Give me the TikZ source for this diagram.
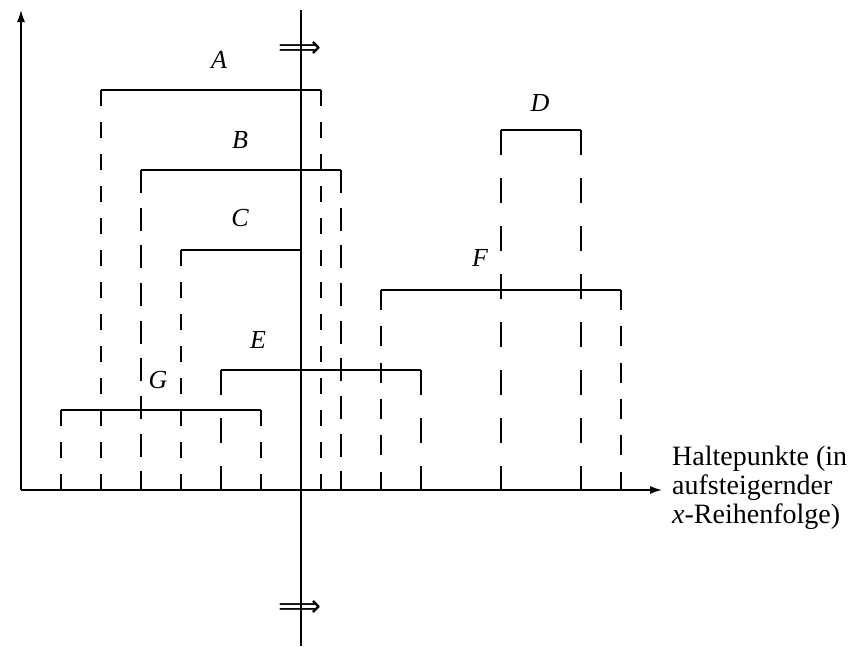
\documentclass[tikz,border=0pt]{standalone}
\usepackage{fontspec}
\setmainfont{Liberation Serif}
\newfontfamily\symfont{DejaVu Sans}
\usetikzlibrary{arrows.meta}
\tikzset{
  axis/.style={line width=1.5pt, -{Latex[length=12pt,width=8pt]}},
  sweep/.style={line width=1.3pt},
  seg/.style={line width=1.3pt},
  dsh/.style 2 args={line width=1.3pt, dash pattern=on #1pt off #2pt},
  lab/.style={font=\fontsize{26}{28}\selectfont\itshape, inner sep=0pt},
  txt/.style={font=\fontsize{28}{29}\selectfont, inner sep=0pt, anchor=base west},
  arr/.style={inner sep=0pt}
}
\newcommand{\sweeparrow}{\resizebox{43pt}{16pt}{\symfont ⟹}}
\begin{document}
\begin{tikzpicture}[x=1pt,y=-1pt]
\useasboundingbox (0,0) rectangle (856,646);
% axes
\coordinate (O) at (21,490);
\coordinate (Ytip) at (21,10);
\coordinate (Xtip) at (662,490);
\draw[axis] (O) -- (Ytip);
\draw[axis] (O) -- (Xtip);
% sweep line
\coordinate (S1) at (301,10);
\coordinate (S2) at (301,646);
\draw[sweep] (S1) -- (S2);
\node[arr] (ar1) at (300,49) {\sweeparrow};
\node[arr] (ar2) at (300,608) {\sweeparrow};
% segment end points
\coordinate (A1) at (101,90);  \coordinate (A2) at (321,90);
\coordinate (B1) at (141,170); \coordinate (B2) at (341,170);
\coordinate (C1) at (181,250); \coordinate (C2) at (301,250);
\coordinate (D1) at (501,130); \coordinate (D2) at (581,130);
\coordinate (E1) at (221,370); \coordinate (E2) at (421,370);
\coordinate (F1) at (381,290); \coordinate (F2) at (621,290);
\coordinate (G1) at (61,410);  \coordinate (G2) at (261,410);
% feet on the x axis
\coordinate (A1b) at (101,490); \coordinate (A2b) at (321,490);
\coordinate (B1b) at (141,490); \coordinate (B2b) at (341,490);
\coordinate (C1b) at (181,490);
\coordinate (D1b) at (501,490); \coordinate (D2b) at (581,490);
\coordinate (E1b) at (221,490); \coordinate (E2b) at (421,490);
\coordinate (F1b) at (381,490); \coordinate (F2b) at (621,490);
\coordinate (G1b) at (61,490);  \coordinate (G2b) at (261,490);
% segments
\draw[seg] (A1) -- (A2);
\draw[seg] (B1) -- (B2);
\draw[seg] (C1) -- (C2);
\draw[seg] (D1) -- (D2);
\draw[seg] (E1) -- (E2);
\draw[seg] (F1) -- (F2);
\draw[seg] (G1) -- (G2);
% dashed projections
\draw[dsh={16}{16}] (A1) -- (A1b);
\draw[dsh={16}{16}] (A2) -- (A2b);
\draw[dsh={23}{14.65}] (B1) -- (B1b);
\draw[dsh={23}{14.65}] (B2) -- (B2b);
\draw[dsh={16}{16}] (C1) -- (C1b);
\draw[dsh={25}{23}] (D1) -- (D1b);
\draw[dsh={25}{23}] (D2) -- (D2b);
\draw[dsh={25}{23}] (E1) -- (E1b);
\draw[dsh={25}{23}] (E2) -- (E2b);
\draw[dsh={20}{16.36}] (F1) -- (F1b);
\draw[dsh={20}{16.36}] (F2) -- (F2b);
\draw[dsh={16}{16}] (G1) -- (G1b);
\draw[dsh={16}{16}] (G2) -- (G2b);
% labels
\node[lab] (lA) at (219,60) {A};
\node[lab] (lB) at (240,140) {B};
\node[lab] (lC) at (240,218) {C};
\node[lab] (lD) at (540,103) {D};
\node[lab] (lE) at (258,340) {E};
\node[lab] (lF) at (480,258) {F};
\node[lab] (lG) at (158,380) {G};
% axis caption
\node[txt] (t1) at (672,465) {Haltepunkte (in};
\node[txt] (t2) at (672,494) {aufsteigernder};
\node[txt] (t3) at (672,523) {\textit{x}-Reihenfolge)};
\end{tikzpicture}
\end{document}
